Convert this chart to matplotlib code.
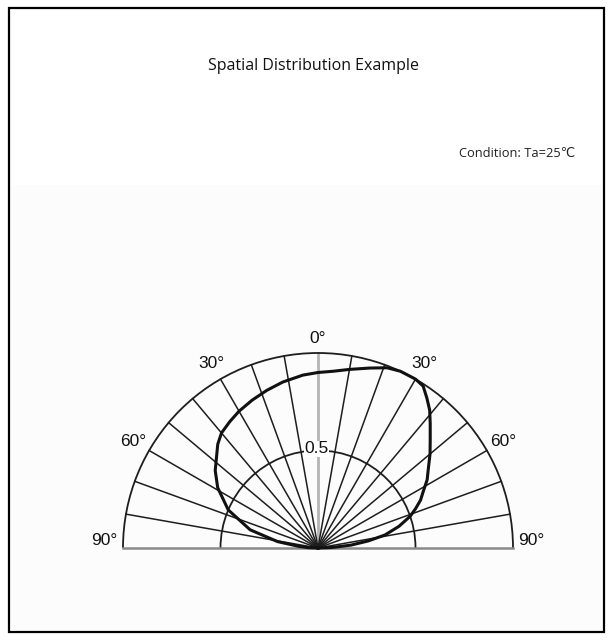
import numpy as np
import matplotlib
matplotlib.use('Agg')
import matplotlib.pyplot as plt
from matplotlib.patches import Arc, Rectangle

# relative luminous intensity vs. angle (deg, 0 = up, positive = right)
angles = [-90, -88, -85, -81, -75, -67, -59, -53, -48, -44, -40, -35, -30, -24, -18, -12,
          -5, 0, 5, 10, 16, 21, 25, 30, 33, 36, 39, 42, 46, 50, 54, 58, 62, 65, 68, 71,
          75, 79, 82, 85, 88, 90]
intensity = [0.0, 0.05, 0.10, 0.21, 0.36, 0.50, 0.60, 0.66, 0.70, 0.74, 0.77, 0.79, 0.81, 0.83,
             0.85, 0.87, 0.89, 0.90, 0.91, 0.93, 0.96, 0.99, 1.0, 1.0, 0.99, 0.95, 0.91, 0.86,
             0.80, 0.75, 0.70, 0.66, 0.61, 0.58, 0.54, 0.50, 0.43, 0.35, 0.26, 0.17, 0.07, 0.0]

grid_angles = [-80, -70, -60, -50, -40, -30, -20, -10, 10, 20, 30, 40, 50, 60, 70, 80]
ring_levels = [0.5, 1.0]
angle_labels = ['90°', '60°', '30°', '0°', '30°', '60°', '90°']
label_angles = [-88, -60, -30, 0, 30, 60, 88]

title = 'Spatial Distribution Example'
condition = 'Condition: Ta=25℃'

W, H = 614, 640
R = 195.0          # pixels per unit radius
cx, cy = 318, 92   # centre of the half circle in pixels from bottom-left

fig = plt.figure(figsize=(W / 100, H / 100), dpi=100)
fig.patch.set_facecolor('white')

# page frame and faint shaded panel
fig.add_artist(Rectangle((9 / W, 8 / H), 595 / W, 624 / H, transform=fig.transFigure,
                         fill=False, edgecolor='black', linewidth=1.6))
fig.add_artist(Rectangle((11 / W, 10 / H), 591 / W, 445 / H, transform=fig.transFigure,
                         facecolor='#fcfcfc', edgecolor='none', zorder=0))

fig.text(314 / W, 1 - 66 / H, title, ha='center', va='center', fontsize=11.5,
         family='Open Sans', color='#111111')
fig.text(575 / W, 1 - 153 / H, condition, ha='right', va='center', fontsize=9.3,
         family=['Open Sans', 'DejaVu Sans'], color='#222222')

ax = fig.add_axes([0, 0, 1, 1])
ax.set_xlim(-cx / R, (W - cx) / R)
ax.set_ylim(-cy / R, (H - cy) / R)
ax.axis('off')
ax.patch.set_alpha(0)

line_col = '#1e1e1e'

# radial grid lines
for a in grid_angles:
    t = np.radians(a)
    ax.plot([0, np.sin(t)], [0, np.cos(t)], color=line_col, lw=1.1, zorder=2)
ax.plot([0, 0], [0, 1], color='#b5b5b5', lw=2.0, zorder=1)

# rings
for lv in ring_levels:
    ax.add_patch(Arc((0, 0), 2 * lv, 2 * lv, theta1=0, theta2=180,
                     edgecolor=line_col, lw=1.3, zorder=2))

# baseline
ax.plot([-1, 1], [0, 0], color='#8a8a8a', lw=1.8, zorder=3)

# intensity curve
th = np.radians(angles)
r = np.array(intensity)
ax.plot(r * np.sin(th), r * np.cos(th), color='#111111', lw=2.2, zorder=4)

# angle labels
for lab, a in zip(angle_labels, label_angles):
    t = np.radians(a)
    rr = 1.095 if a != 0 else 1.075
    ax.text(rr * np.sin(t), rr * np.cos(t), lab, ha='center', va='center',
            fontsize=12.5, family='Liberation Sans', color='#111111')

ax.text(-0.01, 0.508, '0.5', ha='center', va='center', fontsize=12.5,
        family='Liberation Sans', color='#111111', zorder=5,
        bbox=dict(facecolor='white', edgecolor='none', pad=0.3))

fig.savefig('out.png', dpi=100)
